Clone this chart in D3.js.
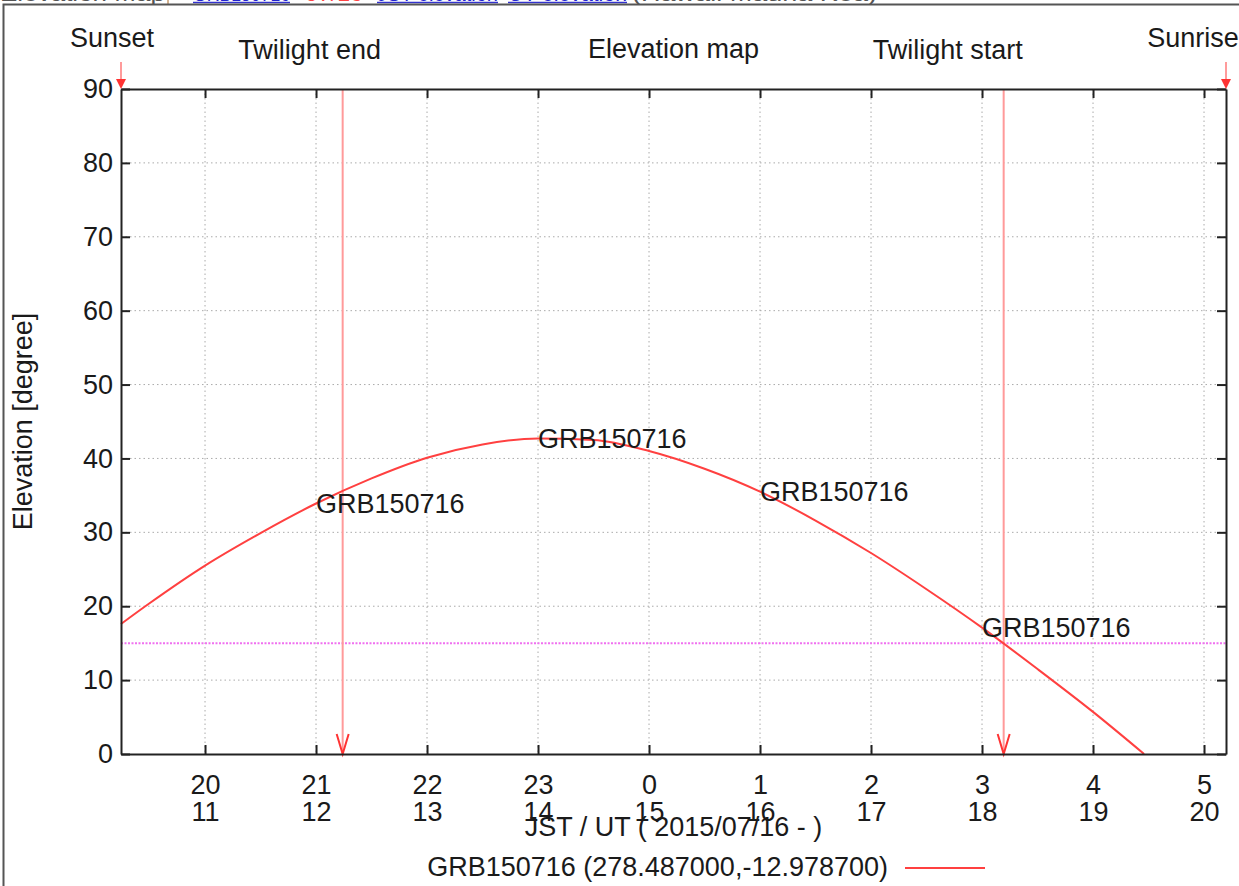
<!DOCTYPE html>
<html>
<head>
<meta charset="UTF-8">
<title>Elevation map</title>
<script src="https://cdn.jsdelivr.net/npm/d3@7/dist/d3.min.js"></script>
<style>
*{margin:0;padding:0;}
body{background:#fff;}
#mychart svg{display:block;font-family:"Liberation Sans",Arial,Helvetica,sans-serif;}
</style>
</head>
<body>
<div id="mychart"></div>
<script>
// time axis: JST hours counted from 0h of 07/15 (24 = 0h JST 07/16)
var eventNames = ["Sunset", "Twilight end", "Twilight start", "Sunrise"];
var eventTimes = [19.243, 21.24, 27.195, 29.198];
var eventLabelDx = [-9, -33, -56, -33];

var hourTicks = [20, 21, 22, 23, 24, 25, 26, 27, 28, 29];
var jstLabels = ["20", "21", "22", "23", "0", "1", "2", "3", "4", "5"];
var utLabels = ["11", "12", "13", "14", "15", "16", "17", "18", "19", "20"];
var elevTicks = [0, 10, 20, 30, 40, 50, 60, 70, 80, 90];

// elevation of the target
var curveTimes = [19.243, 19.5, 20, 20.5, 21, 21.5, 22, 22.5, 23, 23.5, 24, 24.5, 25, 25.5, 26, 26.5, 27, 27.5, 28, 28.46];
var curveElev = [17.6, 20.4, 25.5, 29.9, 33.9, 37.3, 40.1, 41.9, 42.7, 42.5, 41.0, 38.6, 35.5, 31.6, 27.2, 22.3, 17.1, 11.5, 5.7, 0];
var labelTimes = [21, 23, 25, 27];
var limitElev = 15;

var targetName = "GRB150716";
var legendText = "GRB150716 (278.487000,-12.978700)";
var headerParts = [
	{text: "Elevation Map", color: "#555", x0: 0, x1: 165, link: false},
	{text: "GRB150716", color: "#2222cc", x0: 193, x1: 290, link: true},
	{text: "07/16", color: "#ff4444", x0: 305, x1: 363, link: false},
	{text: "JST elevation", color: "#2222cc", x0: 377, x1: 498, link: true},
	{text: "UT elevation", color: "#2222cc", x0: 508, x1: 627, link: true},
	{text: "(Hawaii Mauna Kea)", color: "#555", x0: 632, x1: 877, link: false}
];

drawElevation("mychart");

function drawElevation(divId){
	var W = 1239, H = 886;
	var m = {left: 121, right: 1226, top: 89, bottom: 754};
	var fs = 27;

	var svg = d3.select("#" + divId).append("svg")
		.attr("width", W)
		.attr("height", H);

	//page header, cut at the top
	var hdr = svg.append("g");
	headerParts.forEach(function(p){
		hdr.append("text")
			.attr("x", p.x0)
			.attr("y", 1)
			.attr("textLength", p.x1 - p.x0)
			.attr("lengthAdjust", "spacingAndGlyphs")
			.style("font-size", "20px")
			.attr("fill", p.color)
			.text(p.text);
		if(p.link){
			hdr.append("line")
				.attr("x1", p.x0).attr("x2", p.x1)
				.attr("y1", 2.5).attr("y2", 2.5)
				.attr("stroke", "#3333cc")
				.attr("stroke-width", 1.5);
		}
	});
	hdr.append("line")
		.attr("x1", 168).attr("x2", 168)
		.attr("y1", 0).attr("y2", 5)
		.attr("stroke", "#aa6622");
	//frame
	svg.append("path")
		.attr("d", "M3.5," + H + "V4.5H" + W)
		.attr("fill", "none")
		.attr("stroke", "#555")
		.attr("stroke-width", 2);

	var x = d3.scaleLinear()
		.domain([eventTimes[0], eventTimes[3]])
		.range([m.left, m.right]);
	var y = d3.scaleLinear()
		.domain([0, 90])
		.range([m.bottom, m.top]);

	//grid
	var grid = svg.append("g");
	grid.selectAll(".vgrid")
		.data(hourTicks)
		.enter()
		.append("line")
		.attr("class", "vgrid")
		.attr("x1", function(d){ return x(d); })
		.attr("x2", function(d){ return x(d); })
		.attr("y1", m.top)
		.attr("y2", m.bottom)
		.attr("stroke", "#aaa")
		.attr("stroke-width", 1)
		.attr("stroke-dasharray", "1.5,3");
	grid.selectAll(".hgrid")
		.data(elevTicks.slice(1, -1))
		.enter()
		.append("line")
		.attr("class", "hgrid")
		.attr("x1", m.left)
		.attr("x2", m.right)
		.attr("y1", function(d){ return y(d); })
		.attr("y2", function(d){ return y(d); })
		.attr("stroke", "#aaa")
		.attr("stroke-width", 1)
		.attr("stroke-dasharray", "1.5,3");

	//elevation limit
	svg.append("line")
		.attr("x1", m.left)
		.attr("x2", m.right)
		.attr("y1", y(limitElev))
		.attr("y2", y(limitElev))
		.attr("stroke", "#f070f0")
		.attr("stroke-width", 2)
		.attr("stroke-dasharray", "2,1.5");

	//twilight arrows
	var tw = [1, 2];
	tw.forEach(function(i){
		var xx = x(eventTimes[i]);
		svg.append("line")
			.attr("x1", xx).attr("x2", xx)
			.attr("y1", y(90)).attr("y2", y(0))
			.attr("stroke", "#ff9a9a")
			.attr("stroke-width", 2);
		svg.append("path")
			.attr("d", "M" + (xx - 6) + "," + (y(0) - 20) + "L" + xx + "," + y(0) + "L" + (xx + 6) + "," + (y(0) - 20))
			.attr("fill", "none")
			.attr("stroke", "#ff3333")
			.attr("stroke-width", 2);
	});

	//elevation curve
	var pts = curveTimes.map(function(t, i){ return [t, curveElev[i]]; });
	var line = d3.line()
		.x(function(d){ return x(d[0]); })
		.y(function(d){ return y(d[1]); })
		.curve(d3.curveMonotoneX);
	svg.append("path")
		.datum(pts)
		.attr("d", line)
		.attr("fill", "none")
		.attr("stroke", "#ff4040")
		.attr("stroke-width", 2);

	//target labels on the curve
	svg.selectAll(".tlabel")
		.data(labelTimes)
		.enter()
		.append("text")
		.attr("class", "tlabel")
		.attr("x", function(d){ return x(d); })
		.attr("y", function(d){ return y(curveElev[curveTimes.indexOf(d)]); })
		.attr("dy", "0.35em")
		.style("font-size", fs + "px")
		.attr("fill", "#1a1a1a")
		.text(targetName);

	//axes
	var axB = svg.append("g")
		.attr("class", "axis")
		.attr("transform", "translate(0," + m.bottom + ")")
		.call(d3.axisBottom(x).tickValues(hourTicks).tickSizeInner(-9).tickSizeOuter(0).tickFormat(""));
	svg.append("g")
		.attr("class", "axis")
		.attr("transform", "translate(0," + m.top + ")")
		.call(d3.axisTop(x).tickValues(hourTicks).tickSizeInner(-9).tickSizeOuter(0).tickFormat(""));
	svg.append("g")
		.attr("class", "axis ylab")
		.attr("transform", "translate(" + m.left + ",0)")
		.call(d3.axisLeft(y).tickValues(elevTicks).tickSizeInner(-9).tickSizeOuter(0).tickPadding(8));
	svg.append("g")
		.attr("class", "axis")
		.attr("transform", "translate(" + m.right + ",0)")
		.call(d3.axisRight(y).tickValues(elevTicks).tickSizeInner(-9).tickSizeOuter(0).tickFormat(""));
	svg.selectAll(".axis path")
		.attr("stroke", "#222")
		.attr("stroke-width", 2);
	svg.selectAll(".axis line")
		.attr("stroke", "#222")
		.attr("stroke-width", 2);
	svg.selectAll(".ylab text")
		.style("font-size", fs + "px")
		.style("font-family", "inherit")
		.attr("fill", "#1a1a1a");

	//two line hour labels: JST over UT
	axB.selectAll(".tick").each(function(d){
		var i = hourTicks.indexOf(d);
		var g = d3.select(this);
		g.append("text")
			.attr("y", 40)
			.attr("text-anchor", "middle")
			.style("font-size", fs + "px")
			.attr("fill", "#1a1a1a")
			.text(jstLabels[i]);
		g.append("text")
			.attr("y", 67)
			.attr("text-anchor", "middle")
			.style("font-size", fs + "px")
			.attr("fill", "#1a1a1a")
			.text(utLabels[i]);
	});

	var cx = (m.left + m.right) / 2;
	svg.append("text")
		.attr("x", cx)
		.attr("y", 836)
		.attr("text-anchor", "middle")
		.style("font-size", fs + "px")
		.attr("fill", "#1a1a1a")
		.text("JST / UT ( 2015/07/16 - )");

	svg.append("text")
		.attr("transform", "translate(32," + ((m.top + m.bottom) / 2) + ") rotate(-90)")
		.attr("text-anchor", "middle")
		.style("font-size", fs + "px")
		.attr("fill", "#1a1a1a")
		.text("Elevation [degree]");

	//title
	svg.append("text")
		.attr("x", cx)
		.attr("y", 58)
		.attr("text-anchor", "middle")
		.style("font-size", fs + "px")
		.attr("fill", "#1a1a1a")
		.text("Elevation map");

	//sunset / sunrise arrows
	[0, 3].forEach(function(i){
		var xx = x(eventTimes[i]);
		svg.append("line")
			.attr("x1", xx).attr("x2", xx)
			.attr("y1", m.top - 27).attr("y2", m.top - 8)
			.attr("stroke", "#ff7a7a")
			.attr("stroke-width", 1.5);
		svg.append("path")
			.attr("d", "M" + (xx - 5) + "," + (m.top - 10) + "L" + xx + "," + m.top + "L" + (xx + 5) + "," + (m.top - 10) + "Z")
			.attr("fill", "#ff3333");
	});

	//event labels
	svg.selectAll(".elabel")
		.data(eventNames)
		.enter()
		.append("text")
		.attr("class", "elabel")
		.attr("x", function(d, i){ return x(eventTimes[i]) + eventLabelDx[i]; })
		.attr("y", function(d, i){ return (i == 0 || i == 3) ? 47 : 59; })
		.attr("text-anchor", "middle")
		.style("font-size", fs + "px")
		.attr("fill", "#1a1a1a")
		.text(function(d){ return d; });

	//legend
	svg.append("text")
		.attr("x", 888)
		.attr("y", 876)
		.attr("text-anchor", "end")
		.style("font-size", fs + "px")
		.attr("fill", "#1a1a1a")
		.text(legendText);
	svg.append("line")
		.attr("x1", 905).attr("x2", 985)
		.attr("y1", 868).attr("y2", 868)
		.attr("stroke", "#ff4040")
		.attr("stroke-width", 2);
}
</script>
</body>
</html>
